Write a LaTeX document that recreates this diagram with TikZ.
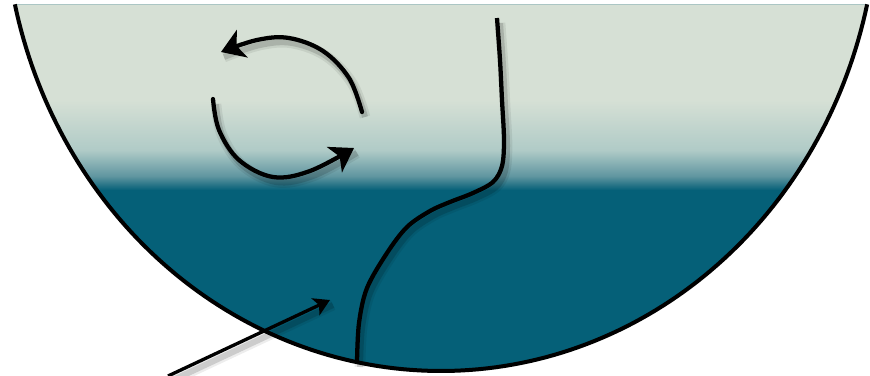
\documentclass[tikz,border=0pt]{standalone}
\usetikzlibrary{arrows.meta}
\definecolor{lightc}{RGB}{214,224,213}
\definecolor{midc}{RGB}{176,203,199}
\definecolor{midd}{RGB}{96,150,160}
\definecolor{deepteal}{RGB}{5,96,120}
\tikzset{
  outline/.style={line width=3pt, black},
  flowline/.style={line width=3.2pt, black, line cap=round},
  bigtip/.style={-{Stealth[length=17pt,width=22pt,inset=4.5pt]}},
  smalltip/.style={-{Stealth[length=12pt,width=14pt,inset=3pt]}},
  shadowA/.style={draw=black, opacity=0.07, line width=8pt},
  shadowB/.style={draw=black, opacity=0.14, line width=4.5pt},
}
\begin{document}
\begin{tikzpicture}[x=0.75pt,y=-0.75pt]
\useasboundingbox (0,0) rectangle (870,375);
\def\bowl{plot[domain=167.2:12.8,samples=140] ({441+437*cos(\x)},{-100+471*sin(\x)})}
\def\upperarc{plot[smooth,tension=0.6] coordinates {(362,112) (349,78) (323,51) (289,38) (257,40) (221,52)}}
\def\lowerarc{plot[smooth,tension=0.6] coordinates {(213,99) (219,130) (239,160) (273,177) (310,171) (354,148)}}
\def\riser{plot[smooth,tension=0.55] coordinates {(497,18) (500,60) (502,100) (504,140) (502,166) (493,182) (473,193) (450,202) (430,211) (407,227) (387,253) (367,288) (359,323) (357,362)}}
% bowl fill
\begin{scope}
  \clip \bowl -- cycle;
  \fill[deepteal] (0,0) rectangle (870,375);
  \fill[lightc] (0,0) rectangle (870,100);
  \shade[top color=lightc,bottom color=midc] (0,100) rectangle (870,150);
  \shade[top color=midc,bottom color=midd] (0,150) rectangle (870,176);
  \shade[top color=midd,bottom color=deepteal] (0,176) rectangle (870,190);
\end{scope}
% shadows
\begin{scope}[shift={(3,5)}]
  \path[shadowA] \upperarc; \path[shadowA] \lowerarc; \path[shadowA] \riser;
  \path[shadowB] \upperarc; \path[shadowB] \lowerarc; \path[shadowB] \riser;
  \path[shadowA] (168,376) -- (330,300);
  \path[shadowB] (168,376) -- (330,300);
\end{scope}
% bowl outline
\draw[outline] \bowl;
% circulation arrows
\draw[flowline,bigtip] \upperarc;
\draw[flowline,bigtip] \lowerarc;
% rising curve
\draw[flowline, line cap=butt] \riser;
% inflow arrow
\draw[line width=2.5pt,smalltip] (168,376) -- (330,300);
\end{tikzpicture}
\end{document}
